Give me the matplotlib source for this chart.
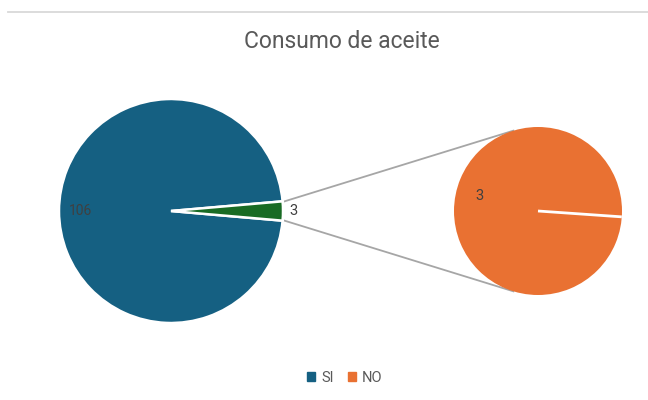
import numpy as np
import matplotlib
matplotlib.use("Agg")
import matplotlib.pyplot as plt

# oil consumption answers
labels = ["SI", "NO"]
main_values = [106, 3]     # main pie: SI, then the "otros" slice
detail_values = [3]        # breakdown of the small slice (NO)

c_blue = "#156082"
c_green = "#196B24"
c_orange = "#E97132"
c_text = "#595959"

plt.rcParams["font.family"] = ["Roboto", "DejaVu Sans"]

W, H = 648, 400
fig = plt.figure(figsize=(W / 100, H / 100), dpi=100)
ax = fig.add_axes([0, 0, 1, 1])

# work in pixel units, y up
main_c = (171, 400 - 211)
main_r = 112
det_c = (538, 400 - 211)
det_r = 84
det_start = -4

# main pie, small slice centred on the right
small_deg = 360 * main_values[1] / sum(main_values)
wm, _ = ax.pie(main_values, colors=[c_blue, c_green], center=main_c, radius=main_r,
               startangle=small_deg / 2, counterclock=True,
               wedgeprops=dict(edgecolor="white", linewidth=1.8))

# secondary pie with the breakdown
wd, _ = ax.pie(detail_values, colors=[c_orange], center=det_c, radius=det_r,
               startangle=det_start, wedgeprops=dict(edgecolor="none"))
# slice border of the single wedge
a = np.radians(det_start)
ax.plot([det_c[0], det_c[0] + det_r * np.cos(a)], [det_c[1], det_c[1] + det_r * np.sin(a)],
        color="white", lw=2, solid_capstyle="butt")

# connector lines from the small slice to the secondary pie
t1, t2 = np.radians(wm[1].theta1), np.radians(wm[1].theta2)
for t in (t2, t1):
    px = main_c[0] + main_r * np.cos(t)
    py = main_c[1] + main_r * np.sin(t)
    dx, dy = px - det_c[0], py - det_c[1]
    d = np.hypot(dx, dy)
    base = np.arctan2(dy, dx)
    off = np.arccos(det_r / d)
    a = base - off if t == t2 else base + off
    tx = det_c[0] + det_r * np.cos(a)
    ty = det_c[1] + det_r * np.sin(a)
    ax.plot([px + 2, tx], [py, ty], color="#A6A6A6", lw=1.3, zorder=0)

# value labels
mid = np.radians((wm[0].theta1 + wm[0].theta2) / 2)
ax.text(main_c[0] + 0.81 * main_r * np.cos(mid), main_c[1] + 0.81 * main_r * np.sin(mid),
        str(main_values[0]), ha="center", va="center", fontsize=10, color="#404040")
mid = np.radians((wm[1].theta1 + wm[1].theta2) / 2)
ax.text(main_c[0] + 1.09 * main_r * np.cos(mid), main_c[1] + 1.09 * main_r * np.sin(mid),
        str(main_values[1]), ha="center", va="center", fontsize=10.5, color="#404040")
ax.text(det_c[0] + 0.72 * det_r * np.cos(np.radians(166)),
        det_c[1] + 0.72 * det_r * np.sin(np.radians(166)),
        str(detail_values[0]), ha="center", va="center", fontsize=10.5, color="#404040")

# title
ax.text(W / 2 + 18, 400 - 42, "Consumo de aceite", ha="center", va="center",
        fontsize=16.5, color=c_text)

# top border line
ax.plot([8, W], [400 - 12, 400 - 12], color="#D9D9D9", lw=1.3)

# legend
handles = [plt.Rectangle((0, 0), 1, 1, color=c) for c in (c_blue, c_orange)]
leg = fig.legend(handles, labels, loc="center", bbox_to_anchor=(345 / W, 1 - 378 / H),
                 ncol=2, frameon=False, fontsize=10.5, handlelength=0.55, handleheight=0.55,
                 handletextpad=0.4, columnspacing=1.0)
for t in leg.get_texts():
    t.set_color(c_text)

ax.set_xlim(0, W)
ax.set_ylim(0, H)
ax.set_aspect("equal")
ax.axis("off")

fig.savefig("out.png", dpi=100)
